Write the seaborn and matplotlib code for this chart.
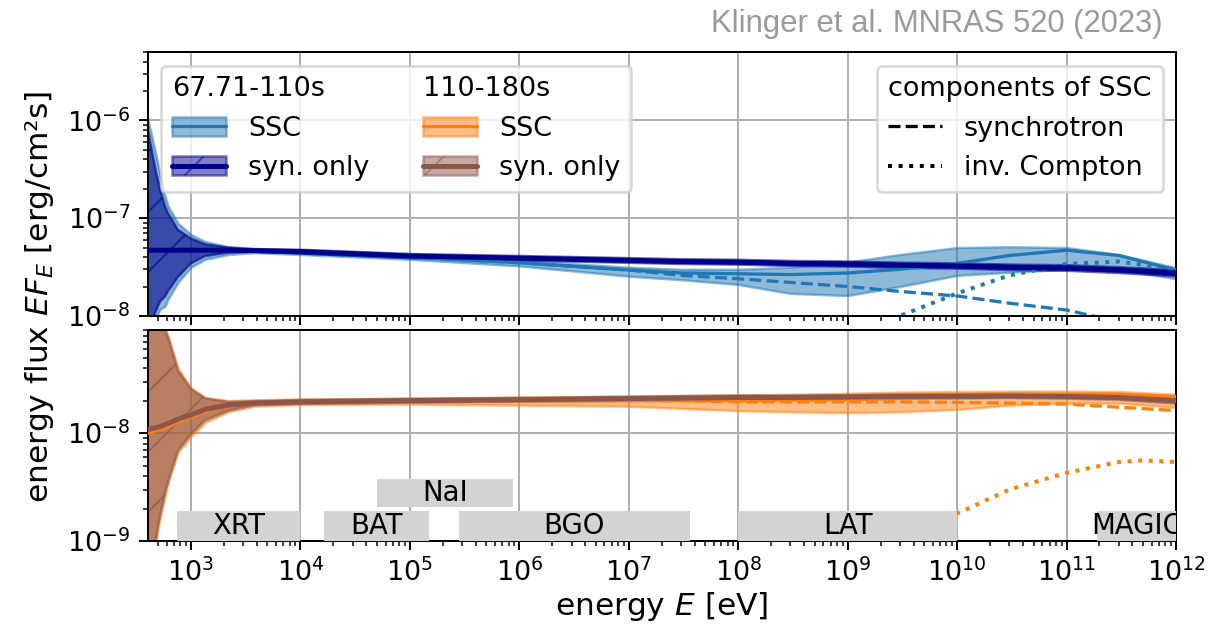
import numpy as np
import pandas as pd
import seaborn as sns
import matplotlib.pyplot as plt
from matplotlib.lines import Line2D
from matplotlib.patches import Patch
from matplotlib.text import Text

# photon energy grid [eV]
energy = [400, 470, 520, 580, 620, 760, 1000, 1350, 2200, 3800, 1e4, 1e5, 1e6, 1e7, 3e7,
          1e8, 3e8, 1e9, 3e9, 1e10, 3e10, 1e11, 3e11, 1e12]

# 67.71-110s : SSC model (median + band) and synchrotron-only model
ssc1_mid = [4.7e-8, 4.7e-8, 4.7e-8, 4.7e-8, 4.7e-8, 4.7e-8, 4.7e-8, 4.7e-8, 4.7e-8, 4.65e-8,
            4.5e-8, 4.0e-8, 3.5e-8, 2.95e-8, 2.75e-8, 2.7e-8, 2.65e-8, 2.75e-8, 3.0e-8, 3.45e-8,
            4.15e-8, 4.7e-8, 4.15e-8, 2.95e-8]
ssc1_hi = [1.07e-6, 4.9e-7, 2.8e-7, 1.66e-7, 1.32e-7, 8.9e-8, 6.8e-8, 5.75e-8, 5.1e-8, 4.9e-8,
           4.7e-8, 4.2e-8, 3.7e-8, 3.15e-8, 3.0e-8, 3.0e-8, 3.15e-8, 3.55e-8, 4.25e-8, 5.0e-8,
           5.1e-8, 5.0e-8, 4.25e-8, 3.1e-8]
ssc1_lo = [5.0e-9, 8.9e-9, 1.17e-8, 1.26e-8, 1.5e-8, 2.2e-8, 3.15e-8, 3.8e-8, 4.25e-8, 4.45e-8,
           4.25e-8, 3.8e-8, 3.25e-8, 2.55e-8, 2.35e-8, 2.1e-8, 1.7e-8, 1.62e-8, 2.0e-8, 2.6e-8,
           2.8e-8, 3.0e-8, 3.0e-8, 2.4e-8]
syn1_mid = [4.7e-8, 4.7e-8, 4.7e-8, 4.7e-8, 4.7e-8, 4.7e-8, 4.7e-8, 4.7e-8, 4.7e-8, 4.65e-8,
            4.55e-8, 4.1e-8, 3.9e-8, 3.7e-8, 3.6e-8, 3.55e-8, 3.45e-8, 3.4e-8, 3.3e-8, 3.25e-8,
            3.15e-8, 3.1e-8, 2.95e-8, 2.75e-8]
syn1_hi = [8.5e-7, 3.3e-7, 2.0e-7, 1.32e-7, 1.12e-7, 7.6e-8, 6.2e-8, 5.4e-8, 5.0e-8, 4.8e-8,
           4.75e-8, 4.3e-8, 4.1e-8, 3.9e-8, 3.8e-8, 3.75e-8, 3.65e-8, 3.6e-8, 3.5e-8, 3.45e-8,
           3.35e-8, 3.3e-8, 3.15e-8, 2.95e-8]
syn1_lo = [6.3e-9, 1.07e-8, 1.4e-8, 1.58e-8, 1.8e-8, 2.5e-8, 3.45e-8, 4.1e-8, 4.45e-8, 4.55e-8,
           4.35e-8, 3.9e-8, 3.7e-8, 3.5e-8, 3.4e-8, 3.35e-8, 3.25e-8, 3.2e-8, 3.1e-8, 3.05e-8,
           2.95e-8, 2.9e-8, 2.75e-8, 2.55e-8]
sync1 = [4.7e-8, 4.7e-8, 4.7e-8, 4.7e-8, 4.7e-8, 4.7e-8, 4.7e-8, 4.7e-8, 4.7e-8, 4.65e-8,
         4.5e-8, 4.0e-8, 3.5e-8, 2.95e-8, 2.6e-8, 2.4e-8, 2.2e-8, 2.0e-8, 1.78e-8, 1.6e-8,
         1.35e-8, 1.15e-8, 8.7e-9, 5.6e-9]
ic1_energy = [1e8, 3e8, 1e9, 3e9, 1e10, 3e10, 1e11, 3e11, 1e12]
ic1 = [1.0e-9, 2.2e-9, 5.0e-9, 1.0e-8, 1.7e-8, 2.6e-8, 3.4e-8, 3.6e-8, 3.0e-8]

# 110-180s
ssc2_mid = [1.0e-8, 1.05e-8, 1.08e-8, 1.12e-8, 1.16e-8, 1.26e-8, 1.41e-8, 1.58e-8, 1.78e-8, 1.88e-8,
            1.95e-8, 2.0e-8, 2.0e-8, 2.0e-8, 2.0e-8, 2.0e-8, 2.02e-8, 2.04e-8, 2.09e-8, 2.19e-8,
            2.26e-8, 2.29e-8, 2.29e-8, 2.19e-8]
ssc2_hi = [5.3e-7, 2.6e-7, 1.48e-7, 9.5e-8, 7.9e-8, 4.0e-8, 2.63e-8, 2.14e-8, 2.0e-8, 2.04e-8,
           2.07e-8, 2.11e-8, 2.16e-8, 2.21e-8, 2.24e-8, 2.26e-8, 2.29e-8, 2.34e-8, 2.4e-8, 2.43e-8,
           2.45e-8, 2.45e-8, 2.43e-8, 2.29e-8]
ssc2_lo = [2.5e-10, 8.9e-10, 1.6e-9, 2.6e-9, 3.5e-9, 6.6e-9, 9.3e-9, 1.26e-8, 1.58e-8, 1.78e-8,
           1.84e-8, 1.86e-8, 1.82e-8, 1.78e-8, 1.7e-8, 1.62e-8, 1.58e-8, 1.55e-8, 1.58e-8, 1.66e-8,
           1.82e-8, 1.9e-8, 1.9e-8, 1.74e-8]
syn2_mid = [1.08e-8, 1.12e-8, 1.15e-8, 1.2e-8, 1.23e-8, 1.35e-8, 1.48e-8, 1.66e-8, 1.82e-8, 1.9e-8,
            1.95e-8, 2.0e-8, 2.04e-8, 2.09e-8, 2.11e-8, 2.14e-8, 2.14e-8, 2.16e-8, 2.19e-8, 2.19e-8,
            2.21e-8, 2.19e-8, 2.14e-8, 2.0e-8]
syn2_hi = [5.0e-7, 2.5e-7, 1.4e-7, 9.0e-8, 7.6e-8, 3.8e-8, 2.57e-8, 2.1e-8, 1.95e-8, 1.98e-8,
           2.03e-8, 2.08e-8, 2.12e-8, 2.17e-8, 2.2e-8, 2.23e-8, 2.23e-8, 2.25e-8, 2.28e-8, 2.29e-8,
           2.31e-8, 2.29e-8, 2.24e-8, 2.11e-8]
syn2_lo = [3.2e-10, 9.5e-10, 1.7e-9, 2.8e-9, 3.6e-9, 6.9e-9, 9.8e-9, 1.32e-8, 1.62e-8, 1.82e-8,
           1.87e-8, 1.92e-8, 1.96e-8, 2.0e-8, 2.02e-8, 2.05e-8, 2.05e-8, 2.07e-8, 2.1e-8, 2.1e-8,
           2.12e-8, 2.09e-8, 2.04e-8, 1.88e-8]
sync2 = [1.0e-8, 1.05e-8, 1.08e-8, 1.12e-8, 1.16e-8, 1.26e-8, 1.41e-8, 1.58e-8, 1.78e-8, 1.88e-8,
         1.95e-8, 2.0e-8, 2.0e-8, 2.0e-8, 2.0e-8, 1.95e-8, 1.95e-8, 1.95e-8, 1.95e-8, 1.93e-8,
         1.9e-8, 1.86e-8, 1.74e-8, 1.62e-8]
ic2_energy = [3e9, 1e10, 3e10, 1e11, 3e11, 5e11, 1e12]
ic2 = [9.5e-10, 1.8e-9, 3.0e-9, 4.3e-9, 5.4e-9, 5.6e-9, 5.4e-9]

# instrument energy ranges [eV]
inst_names = ["XRT", "BAT", "NaI", "BGO", "LAT", "MAGIC"]
inst_lo = [740, 1.65e4, 5.0e4, 2.8e5, 1.0e8, 1.9e11]
inst_hi = [1.0e4, 1.5e5, 8.8e5, 3.6e7, 1.0e10, 1.0e12]
inst_row = [0, 0, 1, 0, 0, 0]

sns.set_style("ticks", {"axes.grid": True, "grid.color": "#b0b0b0", "axes.edgecolor": "black",
                        "xtick.color": "black", "ytick.color": "black", "text.color": "black",
                        "axes.labelcolor": "black"})
plt.rcParams["font.family"] = ["DejaVu Sans"]
plt.rcParams["font.size"] = 10.8
plt.rcParams["hatch.linewidth"] = 0.8
plt.rcParams["grid.linewidth"] = 0.8

fs = 10.8
c_ssc1, c_syn1 = "tab:blue", "darkblue"
c_ssc2, c_syn2 = "tab:orange", "tab:brown"
lw_ssc, lw_syn = 1.3, 2.0

fig = plt.figure(figsize=(1225 / 180, 627 / 180), dpi=180)
gs = fig.add_gridspec(2, 1, height_ratios=[264, 211], hspace=0.06,
                      left=0.1208, right=0.96, top=0.917, bottom=0.137)
ax1 = fig.add_subplot(gs[0])
ax2 = fig.add_subplot(gs[1], sharex=ax1)

for ax in (ax1, ax2):
    ax.set_xscale("log")
    ax.set_yscale("log")


def draw_model(ax, ssc_lo, ssc_hi, ssc_mid, syn_lo, syn_hi, syn_mid, sync, ic_e, ic,
               c_ssc, c_syn):
    ax.fill_between(energy, ssc_lo, ssc_hi, facecolor=c_ssc, edgecolor=c_ssc,
                    alpha=0.5, lw=1, zorder=2)
    ax.fill_between(energy, syn_lo, syn_hi, facecolor=c_syn, edgecolor=c_syn,
                    alpha=0.6, lw=1, hatch="/", zorder=2.1)
    sns.lineplot(x=energy, y=sync, ax=ax, color=c_ssc, lw=1.3, ls="--", errorbar=None,
                 sort=False, zorder=2.5)
    sns.lineplot(x=ic_e, y=ic, ax=ax, color=c_ssc, lw=1.6, ls=":", errorbar=None,
                 sort=False, zorder=2.5)
    sns.lineplot(x=energy, y=ssc_mid, ax=ax, color=c_ssc, lw=lw_ssc, errorbar=None,
                 sort=False, zorder=3)
    sns.lineplot(x=energy, y=syn_mid, ax=ax, color=c_syn, lw=lw_syn, errorbar=None,
                 sort=False, zorder=3.1)


draw_model(ax1, ssc1_lo, ssc1_hi, ssc1_mid, syn1_lo, syn1_hi, syn1_mid, sync1,
           ic1_energy, ic1, c_ssc1, c_syn1)
draw_model(ax2, ssc2_lo, ssc2_hi, ssc2_mid, syn2_lo, syn2_hi, syn2_mid, sync2,
           ic2_energy, ic2, c_ssc2, c_syn2)

# instrument ranges
rows = {0: (1.0e-9, 1.9e-9), 1: (2.05e-9, 3.8e-9)}
for name, lo, hi, r in zip(inst_names, inst_lo, inst_hi, inst_row):
    y0, y1 = rows[r]
    ax2.fill_between([lo, hi], y0, y1, color="lightgray", lw=0, zorder=5)
    ax2.text(np.sqrt(lo * hi), np.sqrt(y0 * y1), name, ha="center", va="center",
             fontsize=11, zorder=6, clip_on=True)

ax1.set_xlim(405, 1e12)
ax1.set_ylim(1e-8, 5e-6)
ax2.set_ylim(1e-9, 9e-8)
ax1.tick_params(labelbottom=False)
for ax in (ax1, ax2):
    ax.grid(True, which="major")
    ax.grid(False, which="minor")
    ax.tick_params(labelsize=fs)

ax2.set_xlabel("energy $E$ [eV]", fontsize=12.5, labelpad=1)
fig.text(0.032, 0.527, "energy flux $EF_E$ [erg/cm²s]", rotation=90, ha="center",
         va="center", fontsize=12.5)

# legends
h_blank = Line2D([], [], linestyle="none")
h_ssc1 = (Patch(facecolor=c_ssc1, edgecolor=c_ssc1, alpha=0.5), Line2D([], [], color=c_ssc1, lw=lw_ssc))
h_syn1 = (Patch(facecolor=c_syn1, edgecolor=c_syn1, alpha=0.5, hatch="/"), Line2D([], [], color=c_syn1, lw=lw_syn))
h_ssc2 = (Patch(facecolor=c_ssc2, edgecolor=c_ssc2, alpha=0.5), Line2D([], [], color=c_ssc2, lw=lw_ssc))
h_syn2 = (Patch(facecolor=c_syn2, edgecolor=c_syn2, alpha=0.5, hatch="/"), Line2D([], [], color=c_syn2, lw=lw_syn))
leg1 = ax1.legend([h_blank, h_ssc1, h_syn1, h_blank, h_ssc2, h_syn2],
                  ["", "SSC", "syn. only", "", "SSC", "syn. only"],
                  ncol=2, loc="upper left", fontsize=fs)
# column headers sit where the handles are
for col, title in zip(leg1._legend_handle_box.get_children(), ["67.71-110s", "110-180s"]):
    da = col.get_children()[0].get_children()[0]
    t = Text(0, 0, title, fontsize=fs, va="baseline", ha="left")
    da.add_artist(t)
    t.set_figure(fig)

leg2 = ax1.legend([Line2D([], [], color="k", ls="--", lw=1.3), Line2D([], [], color="k", ls=":", lw=1.6)],
                  ["synchrotron", "inv. Compton"], loc="upper right", title="components of SSC",
                  alignment="left", fontsize=fs, title_fontsize=fs)
ax1.add_artist(leg1)

fig.text(0.949, 0.985, "Klinger et al. MNRAS 520 (2023)", ha="right", va="top", fontsize=12.4,
         color="#9a9a9a", family=["Liberation Sans Narrow", "Liberation Sans", "DejaVu Sans"])

fig.savefig("out.png", dpi=180)
